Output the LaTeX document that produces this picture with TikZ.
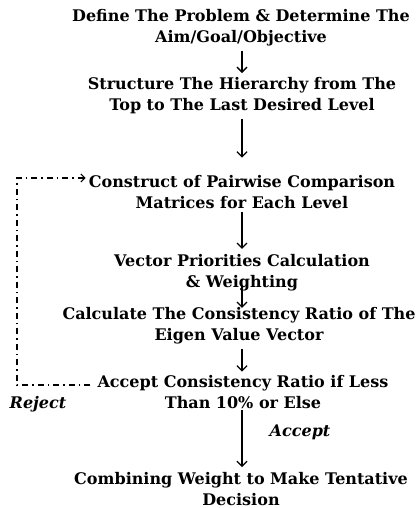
\documentclass[tikz,border=0pt]{standalone}
\usepackage{fontspec}
\setmainfont{DejaVu Serif}
\usetikzlibrary{arrows.meta, positioning, calc}

\tikzset{
  stepbox/.style={align=center, inner sep=0pt, font=\fontsize{16}{21}\selectfont\bfseries},
  flow/.style={line width=1.3pt, -{Straight Barb[length=5pt,width=10pt,line width=1.3pt]}},
  feedback/.style={line width=1.2pt, dash pattern=on 6pt off 4pt on 1.5pt off 4pt,
                   -{Straight Barb[length=4pt,width=8pt,line width=1.2pt]}},
  tag/.style={inner sep=0pt, font=\fontsize{16}{21}\selectfont\bfseries\itshape}
}

\begin{document}
\begin{tikzpicture}[x=1pt, y=-1pt]
  \useasboundingbox (0,0) rectangle (419,508);

  % steps of the procedure
  \node[stepbox] (define)    at (241,27.5)  {Define The Problem \& Determine The\\Aim/Goal/Objective};
  \node[stepbox] (structure) at (242,95.5)  {Structure The Hierarchy from The\\Top to The Last Desired Level};
  \node[stepbox] (construct) at (242,192.5) {Construct of Pairwise Comparison\\Matrices for Each Level};
  \node[stepbox] (vector)    at (242,272.5) {Vector Priorities Calculation\\\& Weighting};
  \node[stepbox] (ratio)     at (239,325.5) {Calculate The Consistency Ratio of The\\Eigen Value Vector};
  \node[stepbox] (accept)    at (243,392.5) {Accept Consistency Ratio if Less\\Than 10\% or Else};
  \node[stepbox] (combine)   at (241,489)   {Combining Weight to Make Tentative\\Decision};

  % labels
  \node[tag] (reject) at (38,404) {Reject};
  \node[tag] (ok)     at (300,432) {Accept};

  % main flow
  \draw[flow, shorten <=5pt, shorten >=4pt] (define.south -| 242,0)    -- (structure.north -| 242,0);
  \draw[flow, shorten <=5pt, shorten >=18pt] (structure.south -| 242,0) -- (construct.north -| 242,0);
  \draw[flow, shorten <=3pt, shorten >=5pt] (construct.south -| 242,0) -- (vector.north -| 242,0);
  \draw[flow, shorten <=-6pt, shorten >=-1pt] (vector.south -| 242,0)  -- (ratio.north -| 242,0);
  \draw[flow, shorten <=5pt, shorten >=4pt] (ratio.south -| 242,0)     -- (accept.north -| 242,0);
  \draw[flow, shorten <=1pt, shorten >=5pt] (accept.south -| 242,0)    -- (combine.north -| 242,0);

  % reject loop
  \coordinate (loopbot) at (17,385);
  \coordinate (looptop) at (17,178);
  \draw[feedback] ($(loopbot -| accept.west)+(-7,0)$) -- (loopbot) -- (looptop) -- ($(looptop -| construct.west)+(-3,0)$);
\end{tikzpicture}
\end{document}
